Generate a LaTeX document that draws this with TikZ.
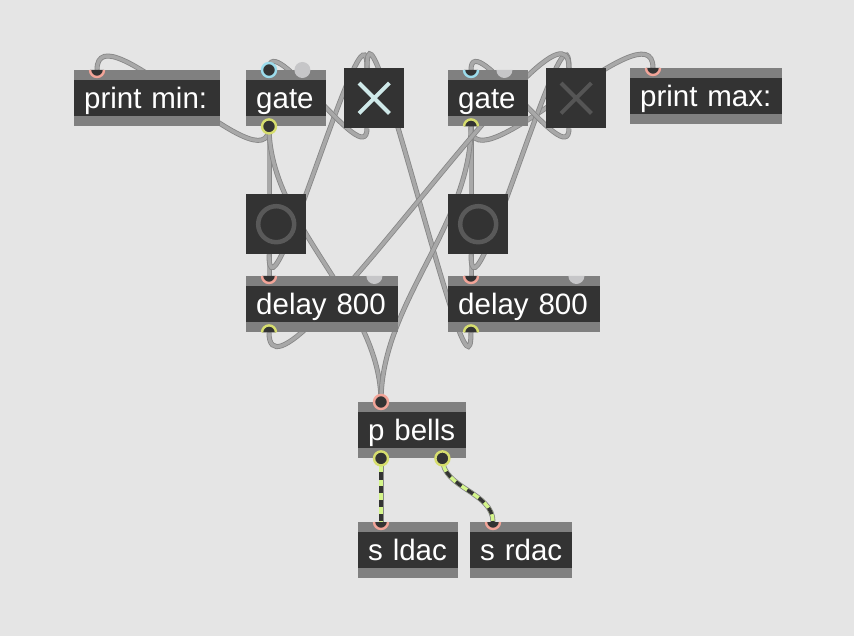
\documentclass[tikz,border=0pt]{standalone}
\usepackage{fontspec}
\setmainfont{Liberation Sans}
\usetikzlibrary{calc}

\definecolor{patchbg}{HTML}{E5E5E5}
\definecolor{objdark}{HTML}{333333}
\definecolor{objgray}{HTML}{808080}
\definecolor{cordfill}{HTML}{A8A8A8}
\definecolor{cordedge}{HTML}{868686}
\definecolor{pinkring}{HTML}{F2A498}
\definecolor{cyanring}{HTML}{9CDCEC}
\definecolor{yelring}{HTML}{D6DD6E}
\definecolor{coldin}{HTML}{C6C6C8}
\definecolor{sigfill}{HTML}{D4F58A}
\definecolor{xon}{HTML}{CFE9E9}
\definecolor{xoff}{HTML}{555555}
\definecolor{bangcol}{HTML}{595959}

\newcommand{\maxfont}{\fontsize{29.5}{32}\selectfont\spaceskip=0.278em\relax}

\pgfdeclarelayer{bglayer}
\pgfdeclarelayer{cordlayer}
\pgfsetlayers{bglayer,cordlayer,main}

\tikzset{
  objbox/.style={rectangle, fill=objdark, text=white, anchor=north west,
    inner xsep=10pt, inner ysep=0pt, minimum height=56pt, text width=#1,
    align=left, text height=27pt, text depth=6pt, font=\maxfont,
    path picture={
      \fill[objgray] (path picture bounding box.north west) rectangle ([yshift=-10pt]path picture bounding box.north east);
      \fill[objgray] ([yshift=10pt]path picture bounding box.south west) rectangle (path picture bounding box.south east);}},
  uibox/.style={rectangle, fill=objdark, anchor=north west, minimum size=60pt, inner sep=0pt},
  cord/.style={draw=cordedge, line width=0.8pt, double=cordfill, double distance=3.4pt},
  sigcord/.style={draw=objdark, line width=3.4pt, dash pattern=on 7pt off 7pt,
    preaction={draw=cordedge, line width=5pt, solid},
    preaction={draw=sigfill, line width=3.4pt, solid}},
  portring/.style={draw=#1, fill=objdark, line width=2.4pt},
  xline/.style={draw=#1, line width=4pt},
  bangring/.style={draw=bangcol, line width=4.5pt}
}

\begin{document}
\begin{tikzpicture}[x=1pt, y=-1pt]

  \begin{pgfonlayer}{bglayer}
    \fill[patchbg] (0,0) rectangle (854,636);
  \end{pgfonlayer}
  \useasboundingbox (0,0) rectangle (854,636);

  % objects
  \node[objbox=126pt] (printmin) at (74,70) {print min:};
  \node[objbox=60pt] (gateA) at (246,70) {gate};
  \node[uibox] (togA) at (344,68) {};
  \node[objbox=60pt] (gateB) at (448,70) {gate};
  \node[uibox] (togB) at (546,68) {};
  \node[objbox=132pt] (printmax) at (630,68) {print max:};
  \node[uibox] (bangA) at (246,194) {};
  \node[uibox] (bangB) at (448,194) {};
  \node[objbox=132pt] (delayA) at (246,276) {delay 800};
  \node[objbox=132pt] (delayB) at (448,276) {delay 800};
  \node[objbox=88pt] (pbells) at (358,402) {p bells};
  \node[objbox=80pt] (sldac) at (358,522) {s ldac};
  \node[objbox=82pt] (srdac) at (470,522) {s rdac};

  % toggles and bangs
  \draw[xline=xon] ($(togA.north west)+(15,15)$) -- ($(togA.south east)+(-15,-15)$)
    ($(togA.north east)+(-15,15)$) -- ($(togA.south west)+(15,-15)$);
  \draw[xline=xoff] ($(togB.north west)+(15,15)$) -- ($(togB.south east)+(-15,-15)$)
    ($(togB.north east)+(-15,15)$) -- ($(togB.south west)+(15,-15)$);
  \foreach \b in {bangA,bangB}
    \draw[bangring] (\b.center) circle (18);

  % inlets and outlets
  \foreach \n in {printmin,gateA,gateB,printmax,togA,togB,bangA,bangB,delayA,delayB,pbells,sldac,srdac} {
    \coordinate (\n-in) at ($(\n.north west)+(23,0)$);
    \coordinate (\n-out) at ($(\n.south west)+(23,0)$);
  }
  \foreach \n in {gateA,gateB,delayA,delayB}
    \coordinate (\n-in2) at ($(\n.north east)+(-24,0)$);
  \coordinate (pbells-out2) at ($(pbells.south east)+(-24,0)$);

  % patch cords
  \begin{pgfonlayer}{cordlayer}
    \draw[cord] (gateA-out) .. controls +(0,65) and +(0,-65) .. (printmin-in);
    \draw[cord] (gateA-out) -- (bangA-in);
    \draw[cord] (bangA-out) -- (delayA-in);
    \draw[cord] (gateA-out) .. controls +(0,100) and +(0,-100) .. (pbells-in);
    \draw[cord] (bangA-out) .. controls +(0,85) and +(0,-85) .. (togA-in);
    \draw[cord] (delayB-out) .. controls +(0,100) and +(0,-100) .. (togA-in);
    \draw[cord] (togA-out) .. controls +(0,45) and +(0,-45) .. (gateA-in);

    \draw[cord] (gateB-out) .. controls +(0,65) and +(0,-65) .. (printmax-in);
    \draw[cord] (gateB-out) -- (bangB-in);
    \draw[cord] (bangB-out) -- (delayB-in);
    \draw[cord] (gateB-out) .. controls +(0,100) and +(0,-100) .. (pbells-in);
    \draw[cord] (bangB-out) .. controls +(0,85) and +(0,-85) .. (togB-in);
    \draw[cord] (delayA-out) .. controls +(0,100) and +(0,-100) .. (togB-in);
    \draw[cord] (togB-out) .. controls +(0,45) and +(0,-45) .. (gateB-in);

    \draw[sigcord] (pbells-out) .. controls +(0,25) and +(0,-25) .. (sldac-in);
    \draw[sigcord] (pbells-out2) .. controls +(0,30) and +(0,-30) .. (srdac-in);
  \end{pgfonlayer}

  % full ports
  \foreach \p/\c in {gateA-in/cyanring, gateA-out/yelring, pbells-in/pinkring, pbells-out/yelring, pbells-out2/yelring}
    \filldraw[portring=\c] (\p) circle (7);
  \fill[coldin] (gateA-in2) circle (8);

  % half ports
  \foreach \p/\c in {printmin-in/pinkring, printmax-in/pinkring, gateB-in/cyanring, delayA-in/pinkring, delayB-in/pinkring, sldac-in/pinkring, srdac-in/pinkring}
    \filldraw[portring=\c] ($(\p)+(-7,0)$) arc[start angle=180, end angle=0, radius=7];
  \foreach \p in {gateB-out, delayA-out, delayB-out}
    \filldraw[portring=yelring] ($(\p)+(-7,0)$) arc[start angle=180, end angle=360, radius=7];
  \foreach \p in {gateB-in2, delayA-in2, delayB-in2}
    \fill[coldin] ($(\p)+(-8,0)$) arc[start angle=180, end angle=0, radius=8];

\end{tikzpicture}
\end{document}
